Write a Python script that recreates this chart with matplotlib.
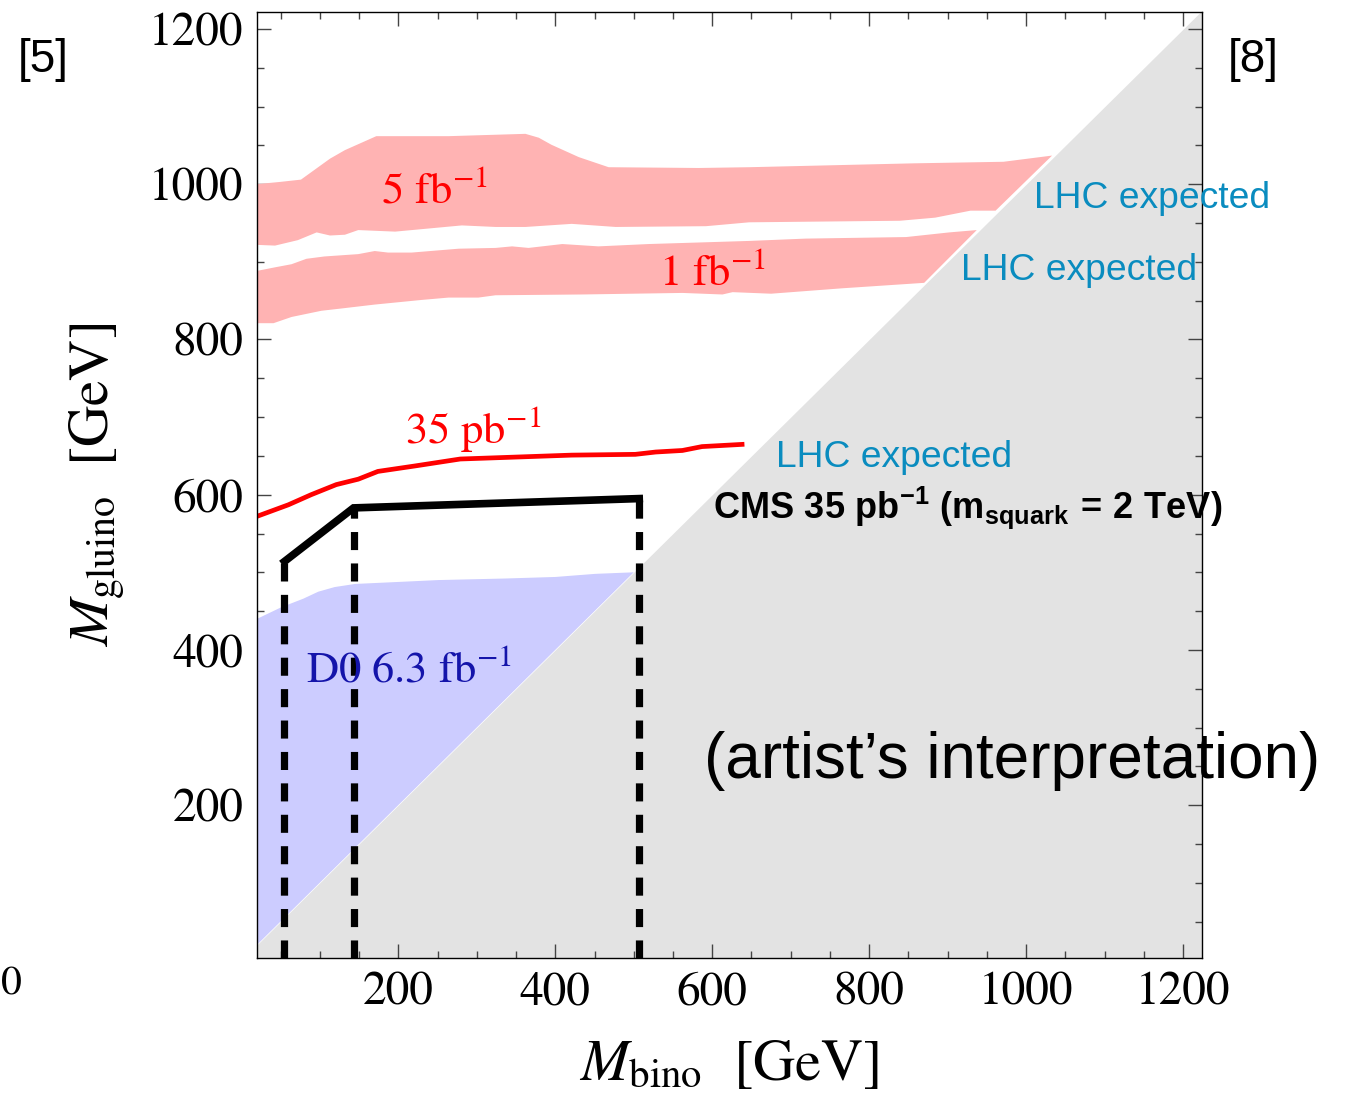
import matplotlib
matplotlib.use("Agg")
import matplotlib.pyplot as plt
import numpy as np
from matplotlib.ticker import MultipleLocator

plt.rcParams["mathtext.fontset"] = "stix"
plt.rcParams["font.family"] = ["STIXGeneral", "DejaVu Serif"]
plt.rcParams["mathtext.bf"] = "Liberation Sans:bold"
plt.rcParams["mathtext.rm"] = "Liberation Sans:bold"
plt.rcParams["mathtext.it"] = "Liberation Sans:bold"

# ---- data (GeV) ----
x_range = (20, 1224)
y_range = (3, 1222)

# LHC 5 fb^-1 expected band
band5_top_x = [18, 49, 76, 113, 132, 172, 264, 362, 379, 395, 430, 468, 583, 647, 857, 971, 1033]
band5_top_y = [1000, 1003, 1006, 1033, 1044, 1062, 1062, 1065, 1060, 1051, 1035, 1022, 1021, 1022, 1027, 1029, 1037]
band5_bot_x = [18, 43, 72, 96, 113, 132, 149, 196, 281, 324, 362, 421, 477, 592, 647, 839, 884, 929, 961]
band5_bot_y = [922, 921, 928, 938, 934, 935, 941, 939, 947, 945, 945, 949, 945, 946, 951, 953, 957, 966, 966]

# LHC 1 fb^-1 expected band
band1_top_x = [18, 43, 64, 83, 106, 149, 170, 187, 217, 277, 324, 345, 366, 409, 455, 519, 647, 719, 847, 902, 937]
band1_top_y = [888, 893, 897, 904, 907, 910, 914, 912, 912, 917, 918, 920, 918, 923, 920, 923, 927, 930, 932, 938, 941]
band1_bot_x = [18, 41, 64, 102, 128, 170, 230, 264, 302, 324, 434, 562, 613, 626, 675, 766, 870]
band1_bot_y = [821, 821, 829, 837, 840, 845, 851, 854, 854, 857, 858, 860, 858, 861, 859, 866, 873]

# D0 6.3 fb^-1 excluded region (upper edge; lower edge is M_gluino = M_bino)
d0_x = [18, 51, 79, 98, 119, 145, 209, 251, 336, 400, 451, 500]
d0_y = [439, 455, 466, 475, 481, 485, 488, 490, 492, 494, 498, 500]

# LHC 35 pb^-1 expected limit
lhc35_x = [17, 60, 89, 121, 149, 174, 221, 279, 336, 421, 502, 528, 562, 587, 641]
lhc35_y = [571, 587, 600, 613, 620, 630, 637, 646, 648, 651, 652, 655, 657, 662, 665]

# CMS 35 pb^-1 limit (m_squark = 2 TeV)
cms_x = [55, 143, 507]
cms_y = [514, 583, 595]

x_ticks = [200, 400, 600, 800, 1000, 1200]
y_ticks = [200, 400, 600, 800, 1000, 1200]

# ---- colours ----
pink = "#ffb3b3"
lilac = "#ccccff"
grey = "#e3e3e3"
lhc_blue = "#0a8cbf"
d0_blue = "#1414aa"

W, H = 1345, 1093
fig = plt.figure(figsize=(W / 100, H / 100), dpi=100)
ax = fig.add_axes([257 / W, 1 - 958 / H, (1202 - 257) / W, (958 - 12) / H])
ax.set_xlim(*x_range)
ax.set_ylim(*y_range)

# region M_gluino < M_bino
diag = np.array([0, 1400])
ax.fill_between(diag, 0, diag, color=grey, lw=0, zorder=1)

# expected bands
for tx, ty, bx, by in [(band5_top_x, band5_top_y, band5_bot_x, band5_bot_y),
                       (band1_top_x, band1_top_y, band1_bot_x, band1_bot_y)]:
    px = list(tx) + list(bx)[::-1]
    py = list(ty) + list(by)[::-1]
    ax.fill(px, py, color=pink, lw=0, zorder=2)

# D0 region
px = list(d0_x) + [d0_x[-1], d0_x[0]]
py = list(d0_y) + [d0_x[-1], d0_x[0]]
ax.fill(px, py, color=lilac, lw=0, zorder=2)

# 35 pb^-1 expected line
ax.plot(lhc35_x, lhc35_y, color="#ff0000", lw=3.4, zorder=4, solid_capstyle="butt")

# CMS limit
ax.plot(cms_x, cms_y, color="black", lw=5.5, zorder=5, solid_joinstyle="miter")
ax.vlines(cms_x, y_range[0], cms_y, colors="black", lw=5.2,
          linestyles=[(0, (2.5, 1.85))], zorder=5)

# ticks
ax.set_xticks(x_ticks)
ax.set_yticks(y_ticks)
ax.xaxis.set_minor_locator(MultipleLocator(50))
ax.yaxis.set_minor_locator(MultipleLocator(50))
ax.tick_params(which="both", direction="in", top=True, right=True, color="#444444", width=1)
ax.tick_params(which="major", length=10, labelsize=34, pad=10)
ax.tick_params(which="minor", length=5)
for lbl in ax.get_xticklabels() + ax.get_yticklabels():
    lbl.set_fontfamily("STIXGeneral")
for s in ax.spines.values():
    s.set_linewidth(1.0)
    s.set_zorder(6)

ax.set_xlabel(r"$M_{\mathregular{bino}}$  [GeV]", fontsize=42, labelpad=18)
ax.set_ylabel(r"$M_{\mathregular{gluino}}$  [GeV]", fontsize=41, labelpad=15)
ax.xaxis.label.set_math_fontfamily("stix")
ax.yaxis.label.set_math_fontfamily("stix")

# labels on the plot
serif_kw = dict(fontsize=32, family="STIXGeneral", zorder=7, clip_on=False, va="baseline",
                math_fontfamily="stix")
ax.text(178, 977, r"5 fb$^{-1}$", color="#ff0000", **serif_kw)
ax.text(532, 870, r"1 fb$^{-1}$", color="#ff0000", **serif_kw)
ax.text(209, 667, r"35 pb$^{-1}$", color="#ff0000", **serif_kw)
ax.text(83, 359, r"D0 6.3 fb$^{-1}$", color=d0_blue, **serif_kw)

sans_kw = dict(family="Liberation Sans", zorder=7, clip_on=False, va="baseline")
ax.text(1010, 970, "LHC expected", color=lhc_blue, fontsize=26.8, **sans_kw)
ax.text(917, 877, "LHC expected", color=lhc_blue, fontsize=26.8, **sans_kw)
ax.text(681, 636, "LHC expected", color=lhc_blue, fontsize=26.8, **sans_kw)
ax.text(601, 570, r"$\mathbf{CMS\ 35\ pb^{-1}\ (m_{squark}\,=\,2\ TeV)}$",
        color="black", fontsize=26, math_fontfamily="custom", **sans_kw)
ax.text(590, 235, "(artist\u2019s interpretation)", color="black", fontsize=46, **sans_kw)

# reference markers around the panel
fig.text(18 / W, 1 - 60 / H, "[5]", fontsize=33, family="Liberation Sans", va="center", ha="left")
fig.text(1228 / W, 1 - 60 / H, "[8]", fontsize=33, family="Liberation Sans", va="center", ha="left")
fig.text(0.5 / W, 1 - 985 / H, "0", fontsize=30, family="STIXGeneral", va="center", ha="left")

fig.savefig("out.png", dpi=100)
